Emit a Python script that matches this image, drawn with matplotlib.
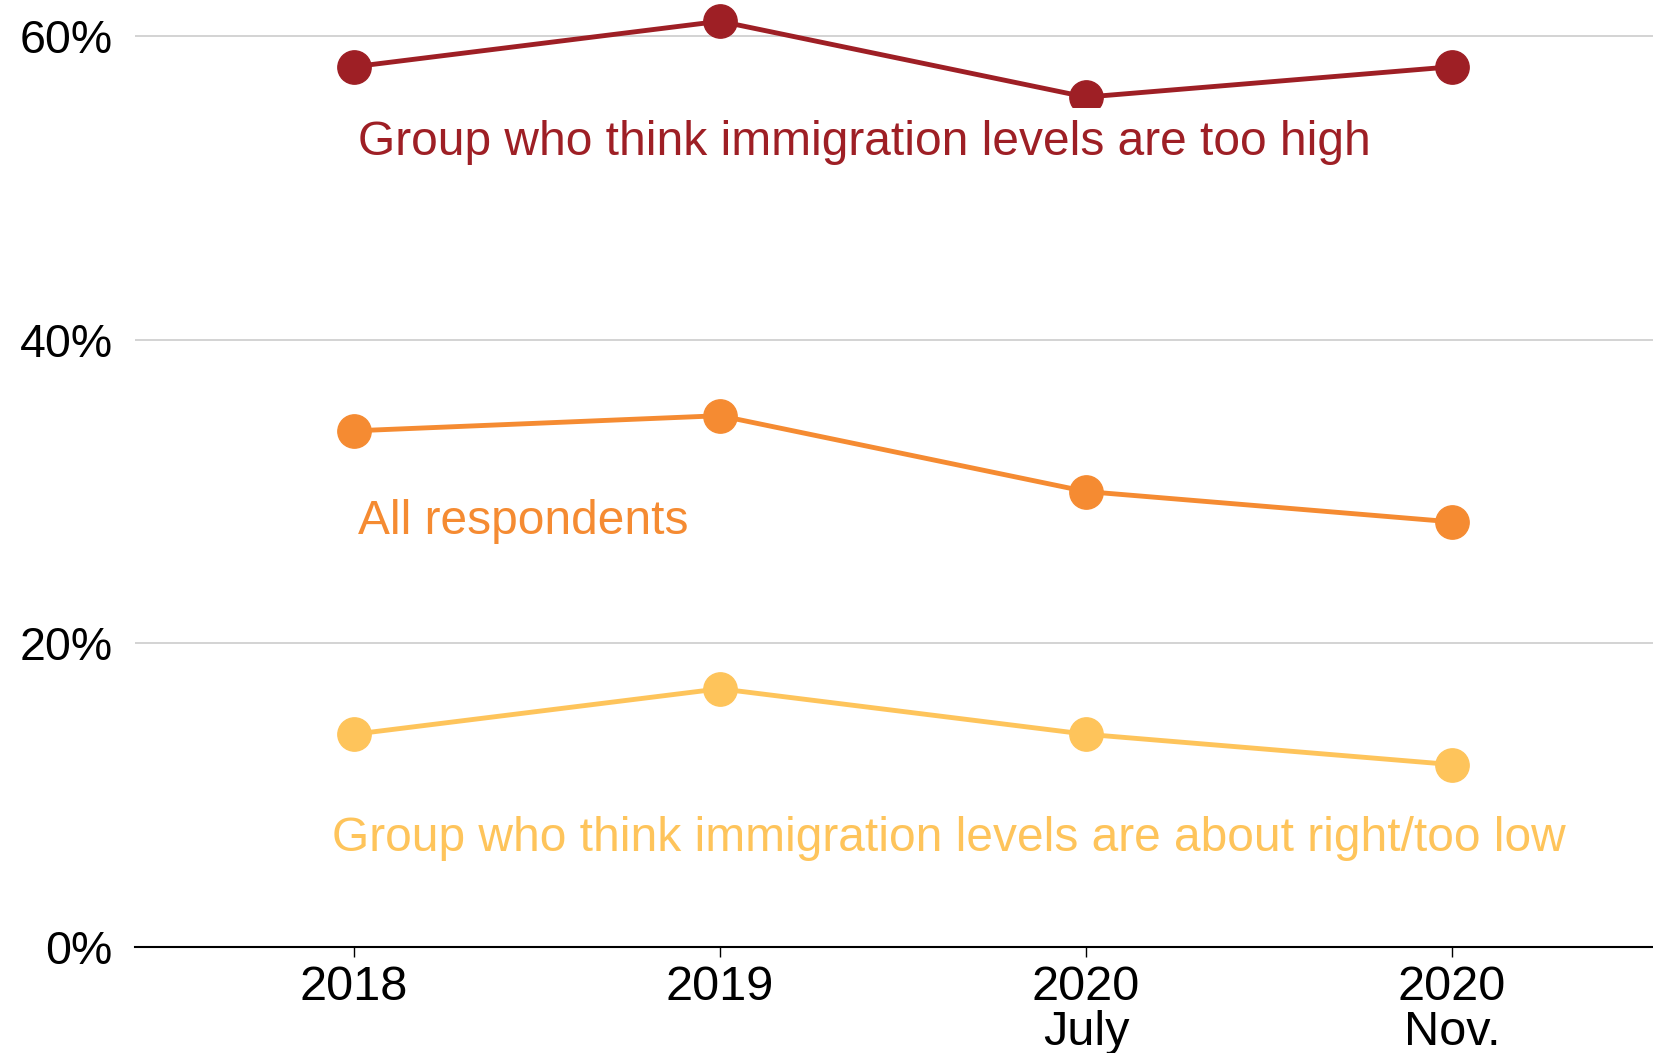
import matplotlib
matplotlib.use("Agg")
import matplotlib.pyplot as plt

plt.rcParams['font.family'] = ['Liberation Sans', 'DejaVu Sans']

categories = ["2018", "2019", "2020\nJuly", "2020\nNov."]
too_high = [58, 61, 56, 58]
all_resp = [34, 35, 30, 28]
right_low = [14, 17, 14, 12]
y_ticks = [0, 20, 40, 60]
y_labels = ["0%", "20%", "40%", "60%"]

c_red = "#9e1f25"
c_orange = "#f58b32"
c_yellow = "#fec45b"

fig = plt.figure(figsize=(16.53, 10.53), dpi=100)
ax = fig.add_axes([135/1653, 0.101, 1 - 135/1653, 0.899])
x = list(range(len(categories)))

for vals, col in [(too_high, c_red), (all_resp, c_orange), (right_low, c_yellow)]:
    ax.plot(x, vals, color=col, lw=3.5, marker='o', ms=24, clip_on=False, zorder=3)

ax.set_xlim(-0.598, 3.549)
ax.set_ylim(0, 62.4)
ax.set_yticks(y_ticks)
ax.set_yticklabels(y_labels)
ax.set_xticks(x)
ax.set_xticklabels(categories, linespacing=1.0)
ax.tick_params(axis='y', length=0, pad=16, labelsize=33.5)
ax.tick_params(axis='x', length=7, width=1, pad=6, labelsize=35, color='black')
for s in ['top', 'right', 'left']:
    ax.spines[s].set_visible(False)
ax.spines['bottom'].set_linewidth(1.5)
ax.grid(axis='y', color='#cccccc', lw=1.2)
ax.set_axisbelow(True)

ax.text(0.01, 53.0, "Group who think immigration levels are too high", color=c_red,
        fontsize=34.5, va='center', ha='left', zorder=5,
        bbox=dict(facecolor='white', edgecolor='none', pad=9))
ax.text(0.01, 28.0, "All respondents", color=c_orange, fontsize=34.5, va='center', ha='left', zorder=5)
ax.text(-0.06, 7.1, "Group who think immigration levels are about right/too low", color=c_yellow,
        fontsize=34.5, va='center', ha='left', zorder=5)

fig.savefig("out.png", dpi=100)
